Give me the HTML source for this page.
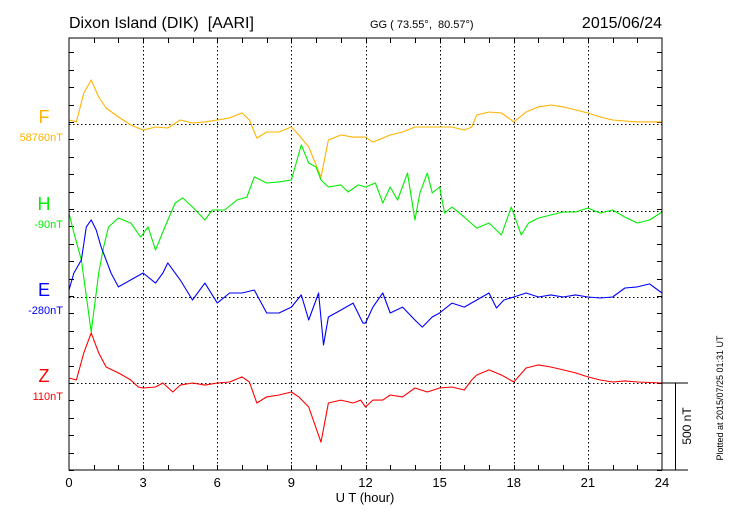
<!DOCTYPE html>
<html><head><meta charset="utf-8"><style>
html,body{margin:0;padding:0;background:#fff;}
svg{display:block;font-family:"Liberation Sans",sans-serif;}
</style></head><body>
<svg id="chart" width="730" height="520" viewBox="0 0 730 520" xmlns="http://www.w3.org/2000/svg">
<text x="69" y="28" font-size="16" fill="#000">Dixon Island (DIK)&#160; [AARI]</text>
<text x="370" y="28" font-size="11" fill="#000">GG ( 73.55°,&#160; 80.57°)</text>
<text x="662" y="28" font-size="16" fill="#000" text-anchor="end">2015/06/24</text>
<g id="grid"></g>
<g id="series"></g>
<rect x="69" y="38" width="593" height="432" fill="none" stroke="#000" stroke-width="1"/>
<g id="labels"></g>
<text x="365" y="502" font-size="13" text-anchor="middle">U T (hour)</text>
<line x1="662" y1="383" x2="688" y2="383" stroke="#000"/>
<line x1="662" y1="470" x2="688" y2="470" stroke="#000"/>
<line x1="675.5" y1="383" x2="675.5" y2="470" stroke="#000"/>
<text transform="translate(691,426) rotate(-90)" font-size="12" text-anchor="middle">500 nT</text>
<text transform="translate(723,398) rotate(-90)" font-size="9" text-anchor="middle">Plotted at 2015/07/25 01:31  UT</text>
</svg>
<script>
const xTicks=[0,3,6,9,12,15,18,21,24];
const seriesNames=["F","H","E","Z"];
const baseLabels=["58760nT","-90nT","-280nT","110nT"];
const fTimes=[0,0.3,0.6,0.9,1.2,1.5,2,2.5,3,3.5,4,4.5,5,5.5,6,6.5,7,7.3,7.6,8,8.5,9,9.3,9.7,10.2,10.5,11,11.5,12,12.3,13,13.5,14,14.5,15,15.5,16,16.3,16.5,17,17.5,18,18.5,19,19.5,20,20.5,21,21.5,22,22.5,23,24];
const fValues=[23,12,178,253,155,92,40,-6,-35,-17,-23,23,6,12,23,35,63,23,-81,-46,-46,-17,-63,-132,-305,-92,-63,-75,-75,-104,-63,-46,-17,-17,-17,-17,-35,-17,52,69,63,12,69,98,109,98,81,63,40,23,17,12,12];
const hTimes=[0,0.2,0.5,0.9,1.2,1.4,1.6,2,2.5,2.9,3.2,3.5,4,4.3,4.6,5,5.5,5.8,6.3,6.8,7.2,7.5,8,8.5,9,9.4,9.7,10,10.2,10.5,11,11.3,11.7,12,12.4,12.7,13,13.3,13.7,14,14.2,14.5,14.7,15,15.2,15.5,16,16.5,17,17.5,17.9,18.3,18.6,19,19.5,20,20.5,21,21.5,22,22.5,23,23.5,24];
const hValues=[-12,-126,-282,-696,-356,-207,-92,-40,-69,-150,-92,-224,-52,46,75,23,-52,6,6,63,80,196,161,167,178,380,276,253,178,138,150,109,150,138,161,46,138,63,218,-52,104,218,104,138,-12,23,-35,-98,-69,-138,23,-138,-69,-40,-23,-6,-6,17,-12,6,-35,-69,-52,-6];
const eTimes=[0,0.2,0.5,0.7,0.9,1.1,1.3,1.5,1.7,2,2.5,3,3.5,3.8,4,4.5,5,5.5,6,6.5,7,7.5,8,8.5,9,9.4,9.7,10.1,10.3,10.5,11,11.5,11.9,12,12.3,12.7,13,13.5,14,14.3,14.7,15,15.5,16,16.5,17,17.3,17.6,18,18.5,19,19.5,20,20.5,21,21.5,22,22.5,23,23.5,24];
const eValues=[40,138,213,403,443,385,288,213,138,58,98,138,80,138,196,98,-17,80,-35,23,23,40,-92,-92,-58,12,-132,23,-276,-115,-75,-35,-150,-150,-58,23,-92,-58,-132,-173,-115,-92,-35,-58,-17,23,-63,-17,0,23,0,12,0,12,0,-6,0,52,58,75,23];
const zTimes=[0,0.3,0.6,0.9,1.2,1.5,2,2.5,2.8,3,3.5,3.8,4.2,4.5,5,5.5,6,6.5,7,7.3,7.6,8,8.5,9,9.3,9.7,10.2,10.5,11,11.5,11.8,12,12.3,12.7,13,13.5,14,14.5,15,15.5,16,16.3,16.5,17,17.5,18,18.5,19,19.5,20,20.5,21,21.5,22,22.5,23,24];
const zValues=[29,17,173,288,173,92,58,17,-23,-29,-23,0,-52,-12,0,-12,0,6,35,6,-115,-80,-69,-52,-80,-138,-340,-115,-98,-115,-98,-138,-98,-98,-69,-80,-29,-52,-29,-23,-40,17,46,75,46,6,86,104,92,75,58,35,17,6,12,6,0];

const NS="http://www.w3.org/2000/svg";
const X0=69,X1=662,Y0=38,Y1=470;
const xScale=h=>X0+(X1-X0)*h/24;
const pxPerNT=87/500;
const baselines=[124,211,297,383];
const colors=["#ffb300","#00ee00","#0000ff","#ff0000"];
function mk(tag,attrs,parent){const e=document.createElementNS(NS,tag);for(const k in attrs)e.setAttribute(k,attrs[k]);parent.appendChild(e);return e;}
const grid=document.getElementById("grid");
const labels=document.getElementById("labels");
const seriesG=document.getElementById("series");
xTicks.forEach(h=>{
  const x=Math.round(xScale(h))+0.5;
  if(h>0&&h<24){const l=mk("line",{x1:x,y1:Y0,x2:x,y2:Y1,stroke:"#000","stroke-dasharray":"1.5,2.5","stroke-width":1},grid);
  
  }
  const t=mk("text",{x:xScale(h),y:487,"font-size":13,"text-anchor":"middle"},labels);
  t.textContent=h;
  
  
});
for(let h=1;h<24;h++){
  const x=Math.round(xScale(h))+0.5;
  const a=mk("line",{x1:x,y1:Y0,x2:x,y2:Y0+5,stroke:"#000"},grid);
  
  
  const b=mk("line",{x1:x,y1:Y1,x2:x,y2:Y1-5,stroke:"#000"},grid);
  
  
}
for(let y=Y1;y>Y0;y-=100*pxPerNT){
  const yy=Math.round(y)+0.5;
  const a=mk("line",{x1:X0,y1:yy,x2:X0+5,y2:yy,stroke:"#000"},grid);
  
  
  const b=mk("line",{x1:X1,y1:yy,x2:X1-5,y2:yy,stroke:"#000"},grid);
  
  
}
const allTimes=[fTimes,hTimes,eTimes,zTimes];
const allValues=[fValues,hValues,eValues,zValues];
seriesNames.forEach((n,i)=>{
  const b=baselines[i]+0.5;
  const bl=mk("line",{x1:X0,y1:b,x2:X1,y2:b,stroke:"#000","stroke-dasharray":"1.5,2.5"},grid);
  
  
  const t=mk("text",{x:44,y:baselines[i]-1,"font-size":18,fill:colors[i],"text-anchor":"middle"},labels);
  t.textContent=n;
  
  
  const t2=mk("text",{x:63,y:baselines[i]+17,"font-size":11,fill:colors[i],"text-anchor":"end"},labels);
  t2.textContent=baseLabels[i];
  
  
  const ts=allTimes[i],vs=allValues[i];
  const pts=ts.map((h,k)=>xScale(h).toFixed(1)+","+(baselines[i]-vs[k]*pxPerNT).toFixed(1)).join(" ");
  const p=mk("polyline",{points:pts,fill:"none",stroke:colors[i],"stroke-width":1.1,"stroke-linejoin":"round"},seriesG);
  
  
});
</script>
</body></html>
